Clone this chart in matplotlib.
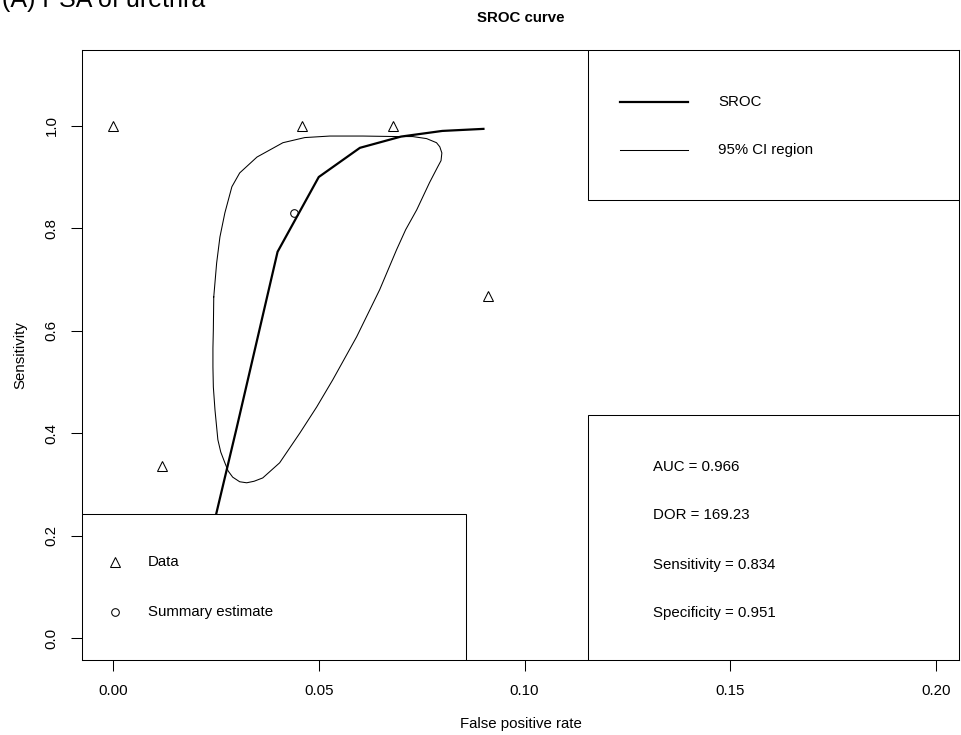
import matplotlib
matplotlib.use("Agg")
import matplotlib.pyplot as plt
from matplotlib.patches import Rectangle

plt.rcParams['font.family'] = ['Liberation Sans', 'DejaVu Sans']
FS = 10.8

# study data (fpr, sensitivity)
data_fpr = [0.0, 0.046, 0.068, 0.012, 0.091]
data_sens = [1.0, 1.0, 1.0, 0.336, 0.668]

# summary estimate
sum_fpr = 0.044
sum_sens = 0.830

# SROC curve
sroc_fpr = [0.02, 0.03, 0.04, 0.05, 0.06, 0.07, 0.08, 0.09]
sroc_sens = [0.07, 0.408, 0.754, 0.900, 0.957, 0.979, 0.990, 0.994]

# 95% confidence region, traced round the loop
ci_fpr = [0.0245, 0.0252, 0.0260, 0.0272, 0.0289, 0.0308, 0.0350, 0.0413,
          0.0466, 0.0527, 0.0607, 0.0689, 0.0728, 0.0762, 0.0786, 0.0794,
          0.0799, 0.0797, 0.0789, 0.0769, 0.0738, 0.0711, 0.0689, 0.0648,
          0.0592, 0.0534, 0.0495, 0.0454, 0.0405, 0.0364, 0.0343, 0.0325,
          0.0308, 0.0291, 0.0280, 0.0272, 0.0262, 0.0255, 0.0248, 0.0244,
          0.0243, 0.0243, 0.0244, 0.0245]
ci_sens = [0.666, 0.732, 0.783, 0.830, 0.881, 0.908, 0.939, 0.967,
           0.977, 0.980, 0.980, 0.979, 0.979, 0.975, 0.967, 0.959,
           0.947, 0.932, 0.920, 0.889, 0.836, 0.797, 0.758, 0.680,
           0.588, 0.504, 0.451, 0.400, 0.342, 0.3125, 0.306, 0.303,
           0.305, 0.314, 0.326, 0.342, 0.363, 0.387, 0.445, 0.490,
           0.529, 0.566, 0.602, 0.666]

stats = ["AUC = 0.966", "DOR = 169.23", "Sensitivity = 0.834", "Specificity = 0.951"]

x_ticks = [0.0, 0.05, 0.10, 0.15, 0.20]
x_labels = ["0.00", "0.05", "0.10", "0.15", "0.20"]
y_ticks = [0.0, 0.2, 0.4, 0.6, 0.8, 1.0]
y_labels = ["0.0", "0.2", "0.4", "0.6", "0.8", "1.0"]

W, H = 961, 735
fig = plt.figure(figsize=(W / 100, H / 100), dpi=100)
L, R, T, B = 82, 959, 50, 660
ax = fig.add_axes([L / W, 1 - B / H, (R - L) / W, (B - T) / H])

ax.plot(ci_fpr, ci_sens, color='black', lw=0.75, zorder=2)
ax.plot(sroc_fpr, sroc_sens, color='black', lw=1.6, zorder=2)
ax.plot(data_fpr, data_sens, ls='none', marker='^', ms=7, mfc='none',
        mec='black', mew=0.75, zorder=2)
ax.plot([sum_fpr], [sum_sens], ls='none', marker='o', ms=5.5, mfc='none',
        mec='black', mew=0.75, zorder=2)

ax.set_xlim(-0.0075, 0.2055)
ax.set_ylim(-0.043, 1.148)
ax.set_xticks(x_ticks, x_labels)
ax.set_yticks(y_ticks, y_labels)
ax.tick_params(direction='out', length=8, width=0.75, labelsize=FS, pad=9)
for lab in ax.get_yticklabels():
    lab.set_rotation(90)
    lab.set_va('center')
for s in ax.spines.values():
    s.set_linewidth(0.75)

tr = ax.transAxes
box_kw = dict(transform=tr, facecolor='white', edgecolor='black', lw=0.75, zorder=3)

# bottom-left legend
ax.add_patch(Rectangle((0, 0), 0.4379, 0.2393, **box_kw))
ax.plot([0.0376], [0.1607], transform=tr, marker='^', ms=7, mfc='none',
        mec='black', mew=0.75, zorder=4)
ax.plot([0.0376], [0.0787], transform=tr, marker='o', ms=5.5, mfc='none',
        mec='black', mew=0.75, zorder=4)
ax.text(0.0753, 0.1607, "Data", transform=tr, fontsize=FS, va='center', zorder=4)
ax.text(0.0753, 0.0787, "Summary estimate", transform=tr, fontsize=FS, va='center', zorder=4)

# top-right legend
ax.add_patch(Rectangle((0.577, 0.754), 0.423, 0.246, **box_kw))
ax.plot([0.6135, 0.691], [0.9148, 0.9148], transform=tr, color='black', lw=1.6, zorder=4)
ax.plot([0.6135, 0.691], [0.836, 0.836], transform=tr, color='black', lw=0.75, zorder=4)
ax.text(0.7252, 0.9148, "SROC", transform=tr, fontsize=FS, va='center', zorder=4)
ax.text(0.7252, 0.836, "95% CI region", transform=tr, fontsize=FS, va='center', zorder=4)

# bottom-right stats box
ax.add_patch(Rectangle((0.577, 0), 0.423, 0.4016, **box_kw))
for yy, s in zip([0.3164, 0.2377, 0.1557, 0.0770], stats):
    ax.text(0.651, yy, s, transform=tr, fontsize=FS, va='center', zorder=4)

fig.text((L + R) / 2 / W, 1 - 18 / H, "SROC curve", fontsize=FS,
         fontweight='bold', ha='center', va='center')
fig.text((L + R) / 2 / W, 1 - 724 / H, "False positive rate", fontsize=FS,
         ha='center', va='center')
fig.text(20 / W, 1 - 355 / H, "Sensitivity", fontsize=FS, rotation=90,
         ha='center', va='center')
fig.text(2 / W, 1 - 7 / H, "(A) PSA of urethra", fontsize=18, ha='left',
         va='baseline')

fig.savefig("out.png", dpi=100)
